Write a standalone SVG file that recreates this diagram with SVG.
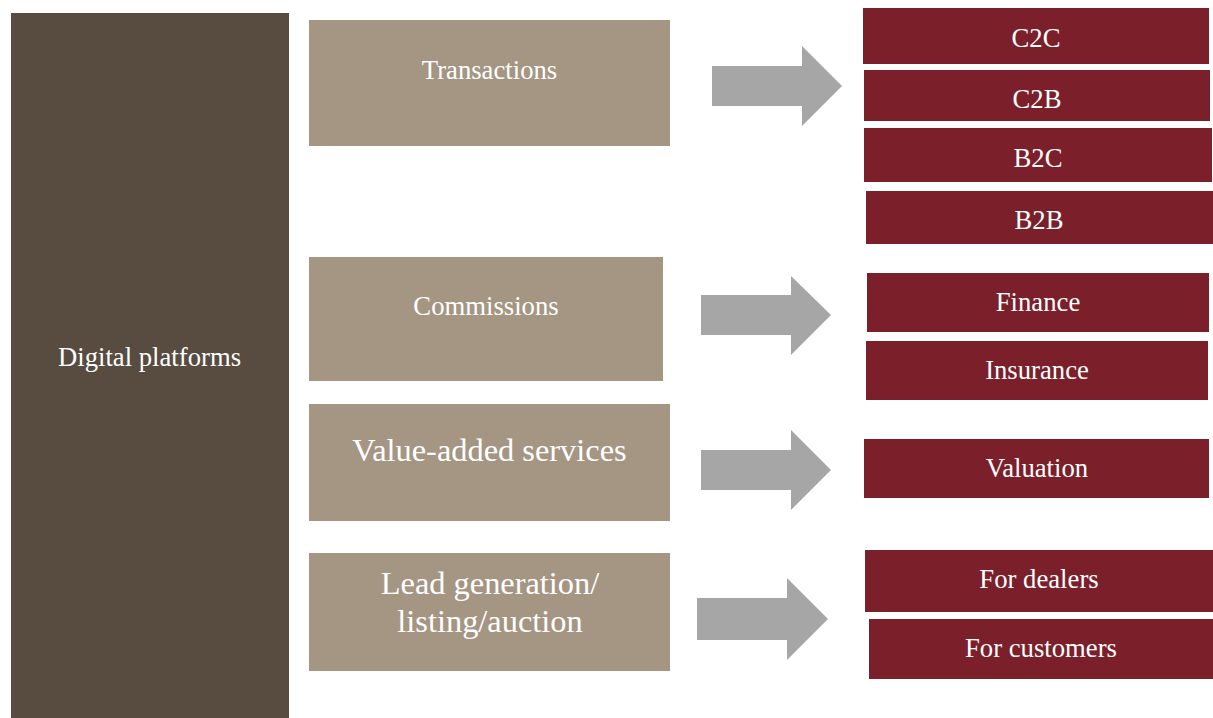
<svg xmlns="http://www.w3.org/2000/svg" width="1213" height="718" viewBox="0 0 1213 718">
<style>
.dark{fill:#584c40}
.tan{fill:#a59683}
.red{fill:#7b1f2b}
.arr{fill:#a6a6a6}
text{font-family:"Liberation Serif","Times New Roman",serif;fill:#ffffff;text-anchor:middle}
.t26{font-size:26.7px}
.t32{font-size:32.4px}
</style>
<rect width="1213" height="718" fill="#ffffff"/>
<g id="digital-platforms">
<rect class="dark" x="11" y="13" width="278" height="705"/>
<text class="t26" x="149.5" y="366">Digital platforms</text>
</g>
<g id="transactions">
<rect class="tan" x="309" y="20" width="361" height="126"/>
<text class="t26" x="489.5" y="79">Transactions</text>
</g>
<g id="commissions">
<rect class="tan" x="309" y="257" width="354" height="124"/>
<text class="t26" x="486" y="315">Commissions</text>
</g>
<g id="value-added">
<rect class="tan" x="309" y="404" width="361" height="117"/>
<text class="t32" x="489.5" y="461">Value-added services</text>
</g>
<g id="lead-generation">
<rect class="tan" x="309" y="553" width="361" height="118"/>
<text class="t32" x="490" y="594">Lead generation/</text>
<text class="t32" x="490" y="632">listing/auction</text>
</g>
<g id="connectors">
<polygon class="arr" points="712,66 802,66 802,46 842,86 802,126 802,106 712,106"/>
<polygon class="arr" points="701,295 791,295 791,276 831,315 791,355 791,335 701,335"/>
<polygon class="arr" points="701,450 791,450 791,430 831,470 791,510 791,490 701,490"/>
<polygon class="arr" points="697,598 787,598 787,578 828,619 787,660 787,640 697,640"/>
</g>
<g id="c2c">
<rect class="red" x="863" y="8" width="346" height="56"/>
<text class="t26" x="1036" y="47">C2C</text>
</g>
<g id="c2b">
<rect class="red" x="864" y="70" width="346" height="51"/>
<text class="t26" x="1037" y="108">C2B</text>
</g>
<g id="b2c">
<rect class="red" x="864" y="128" width="348" height="54"/>
<text class="t26" x="1038" y="167">B2C</text>
</g>
<g id="b2b">
<rect class="red" x="866" y="191" width="347" height="53"/>
<text class="t26" x="1039" y="229">B2B</text>
</g>
<g id="finance">
<rect class="red" x="867" y="273" width="342" height="59"/>
<text class="t26" x="1038" y="311">Finance</text>
</g>
<g id="insurance">
<rect class="red" x="866" y="341" width="342" height="59"/>
<text class="t26" x="1037" y="379">Insurance</text>
</g>
<g id="valuation">
<rect class="red" x="864" y="439" width="345" height="59"/>
<text class="t26" x="1037" y="477">Valuation</text>
</g>
<g id="for-dealers">
<rect class="red" x="865" y="550" width="348" height="62"/>
<text class="t26" x="1039" y="588">For dealers</text>
</g>
<g id="for-customers">
<rect class="red" x="869" y="619" width="344" height="60"/>
<text class="t26" x="1041" y="657">For customers</text>
</g>
</svg>
